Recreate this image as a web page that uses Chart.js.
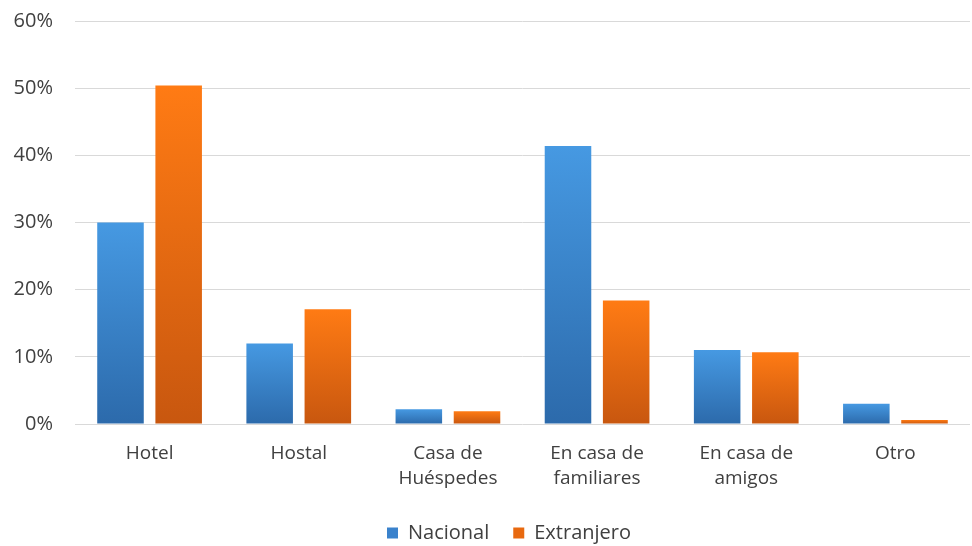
<!DOCTYPE html>
<html>
<head>
<meta charset="utf-8">
<script src="https://cdn.jsdelivr.net/npm/chart.js@4"></script>
<style>
  html, body { margin: 0; padding: 0; background: #fff; }
  #wrap { width: 972px; height: 546px; }
</style>
</head>
<body>
<div id="wrap"><canvas id="alojamiento"></canvas></div>
<script>
const labels = [
    'Hotel',
    'Hostal',
    ['Casa de', 'Huéspedes'],
    ['En casa de', 'familiares'],
    ['En casa de', 'amigos'],
    'Otro',
];

const nacional = [30.0, 12.0, 2.2, 41.4, 11.0, 3.0];
const extranjero = [50.4, 17.1, 1.9, 18.4, 10.7, 0.6];

const yTicks = [0, 10, 20, 30, 40, 50, 60];

const textFont = { family: 'Open Sans', size: 20 };

// each bar gets its own top-to-bottom shade
function barGradient(top, bottom) {
    return function (ctx) {
        const chart = ctx.chart;
        const y = chart.scales.y;
        if (!y || ctx.raw === undefined) return top;
        const y0 = y.getPixelForValue(ctx.raw);
        const y1 = y.getPixelForValue(0);
        if (!isFinite(y0) || !isFinite(y1) || y0 === y1) return top;
        const g = chart.ctx.createLinearGradient(0, y0, 0, y1);
        g.addColorStop(0, top);
        g.addColorStop(1, bottom);
        return g;
    };
}

// trim the legend's bottom margin and centre it under the plot area
const legendFit = {
    id: 'legendFit',
    beforeInit(chart) {
        const legend = chart.legend;
        const fit = legend.fit;
        legend.fit = function () {
            fit.call(this);
            this.height -= 7;
        };
    },
    afterLayout(chart) {
        chart.legend.left += 24;
        chart.legend.right += 24;
    }
};

const data = {
    labels: labels,
    datasets: [{
        label: 'Nacional',
        data: nacional,
        backgroundColor: barGradient('#4699e2', '#2c6aab'),
    }, {
        label: 'Extranjero',
        data: extranjero,
        backgroundColor: barGradient('#ff7b14', '#c8570f'),
    }]
};

const config = {
    type: 'bar',
    data: data,
    plugins: [legendFit],
    options: {
        responsive: true,
        maintainAspectRatio: false,
        animation: false,
        datasets: {
            bar: {
                categoryPercentage: 0.78,
                barPercentage: 0.8,
            }
        },
        layout: {
            padding: { left: 0, right: 2, top: 0, bottom: 0 }
        },
        scales: {
            x: {
                grid: { display: false },
                border: { display: false },
                afterFit: axis => { axis.height = 75; },
                ticks: {
                    color: '#404040',
                    font: { family: 'Open Sans', size: 19, lineHeight: 1.32 },
                    padding: 9,
                    maxRotation: 0,
                    autoSkip: false,
                }
            },
            y: {
                min: 0,
                max: 60,
                afterBuildTicks: function (axis) {
                    axis.ticks = yTicks.map(v => ({ value: v }));
                },
                afterFit: function (axis) {
                    axis.width = 75;
                    axis.paddingTop = 21;
                },
                grid: {
                    color: '#d9d9d9',
                    lineWidth: 1,
                    drawTicks: false,
                },
                border: { display: false },
                ticks: {
                    color: '#404040',
                    font: textFont,
                    padding: 22,
                    callback: v => v + '%',
                }
            }
        },
        plugins: {
            legend: {
                position: 'bottom',
                labels: {
                    boxWidth: 11,
                    boxHeight: 11,
                    color: '#404040',
                    font: textFont,
                    padding: 24,
                    generateLabels: function (chart) {
                        const solid = ['#3a82cc', '#e8690f'];
                        return chart.data.datasets.map((ds, i) => ({
                            text: ds.label,
                            fillStyle: solid[i],
                            strokeStyle: solid[i],
                            lineWidth: 0,
                            datasetIndex: i,
                            fontColor: '#404040',
                        }));
                    }
                }
            },
            tooltip: { enabled: false }
        }
    }
};

const myChart = new Chart(document.getElementById('alojamiento'), config);
</script>
</body>
</html>
